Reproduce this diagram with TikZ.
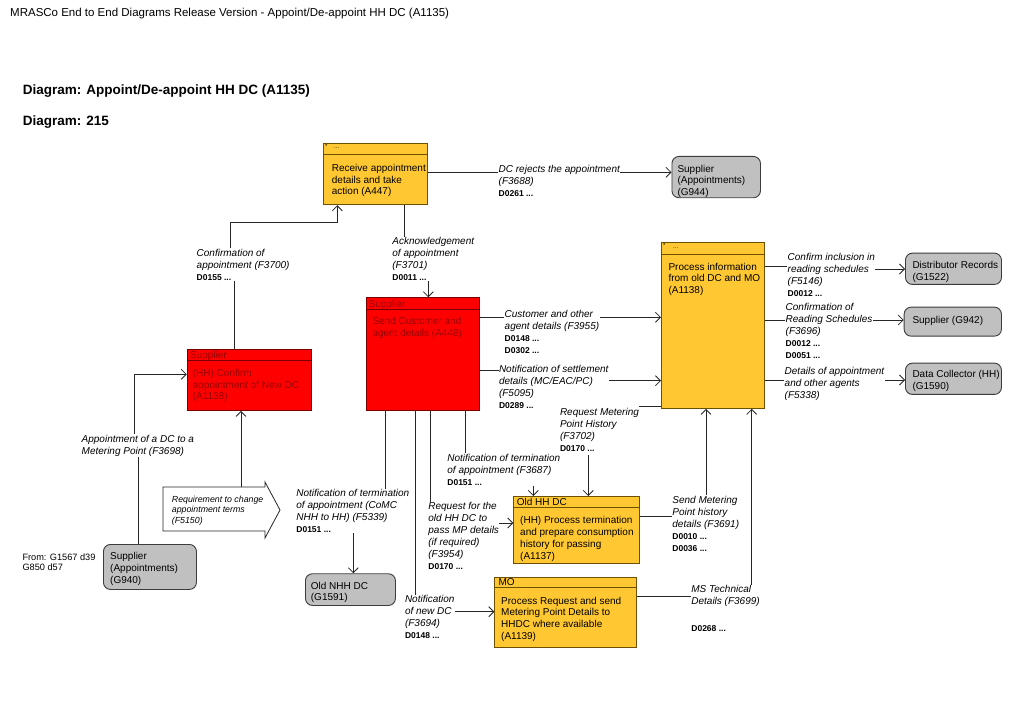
\documentclass[tikz,border=0pt]{standalone}
\usepackage{fontspec}
\setmainfont{Liberation Sans}
\usetikzlibrary{arrows.meta}
\definecolor{orF}{RGB}{255,200,50}
\definecolor{orD}{RGB}{110,80,0}
\definecolor{rdF}{RGB}{255,0,0}
\definecolor{rdD}{RGB}{120,0,0}
\definecolor{rdT}{RGB}{150,0,0}
\definecolor{grF}{RGB}{192,192,192}
\definecolor{grD}{RGB}{60,60,60}
\newcommand{\bxf}{\fontsize{10}{11.7}\selectfont}
\newcommand{\lbf}{\fontsize{10}{12}\selectfont\itshape}
\newcommand{\dcode}[1]{{\fontsize{8.5}{12}\selectfont\normalfont\fontsize{8.5}{12}\selectfont\bfseries #1}}
\begin{document}
\begin{tikzpicture}[x=1pt,y=-1pt,
  box/.style={anchor=north west, inner sep=0pt, line width=0.9pt},
  obox/.style={box, draw=orD, fill=orF},
  rbox/.style={box, draw=rdD, fill=rdF},
  gbox/.style={box, draw=grD, fill=grF, rounded corners=7pt},
  btext/.style={anchor=north west, inner sep=0pt, align=left, font=\bxf},
  rtext/.style={btext, text=rdT},
  tiny/.style={anchor=north west, inner sep=0pt, font=\fontsize{6}{6}\selectfont},
  lab/.style={anchor=north west, inner sep=0.5pt, align=left, fill=white, font=\lbf},
  conn/.style={draw=black!85, line width=0.8pt},
  arr/.style={conn, -{Straight Barb[length=5pt,width=10pt]}},
  hline/.style={line width=0.9pt}]
\useasboundingbox[fill=white] (0,0) rectangle (1023,708);

% titles
\node[anchor=north west, inner sep=0pt, font=\fontsize{11.5}{13}\selectfont] (T1) at (10,8.1)
  {MRASCo End to End Diagrams Release Version - Appoint/De-appoint HH DC (A1135)};
\node[anchor=north west, inner sep=0pt, font=\fontsize{13.5}{15}\selectfont\bfseries] (T2) at (22.7,84.4)
  {Diagram: Appoint/De-appoint HH DC (A1135)};
\node[anchor=north west, inner sep=0pt, font=\fontsize{13.5}{15}\selectfont\bfseries] (T3) at (22.7,115.8)
  {Diagram: 215};

% ---------- boxes ----------
\node[obox, minimum width=104pt, minimum height=61pt] (A447) at (323.3,143.3) {};
\draw[hline, draw=orD] (323.3,154) -- (427.3,154);
\node[tiny] (A447a) at (325,144.5) {*};
\node[tiny] (A447b) at (334,147.5) {...};
\node[btext] (A447t) at (331.7,164.1) {Receive appointment\\details and take\\action (A447)};

\node[gbox, minimum width=88.5pt, minimum height=41.3pt] (G944) at (671.5,156) {};
\node[btext] (G944t) at (677.3,164.8) {Supplier\\(Appointments)\\(G944)};

\node[obox, minimum width=103pt, minimum height=166pt] (A1138p) at (661,242) {};
\draw[hline, draw=orD] (661,254) -- (764,254);
\node[tiny] (A1138pa) at (663,243.5) {*};
\node[tiny] (A1138pb) at (673,247.5) {...};
\node[btext] (A1138pt) at (668.3,262.8) {Process information\\from old DC and MO\\(A1138)};

\node[rbox, minimum width=112.7pt, minimum height=112.7pt] (A448) at (366,297.3) {};
\draw[hline, draw=rdD] (366,309.3) -- (478.7,309.3);
\node[rtext] (A448h) at (368.5,299.8) {Supplier};
\node[rtext] (A448t) at (372.3,317.5) {Send Customer and\\agent details (A448)};

\node[rbox, minimum width=124pt, minimum height=61pt] (A1138c) at (186.7,349) {};
\draw[hline, draw=rdD] (186.7,360) -- (310.7,360);
\node[rtext] (A1138ch) at (190,350.8) {Supplier};
\node[rtext] (A1138ct) at (192.7,369.1) {(HH) Confirm\\appointment of New DC\\(A1138)};

\node[gbox, minimum width=96pt, minimum height=31.3pt] (G1522) at (905,252.7) {};
\node[btext] (G1522t) at (912.3,261.5) {Distributor Records\\(G1522)};

\node[gbox, minimum width=97.3pt, minimum height=29pt] (G942) at (903.7,306.7) {};
\node[btext] (G942t) at (912.3,315.8) {Supplier (G942)};

\node[gbox, minimum width=96pt, minimum height=31.3pt] (G1590) at (905,362.7) {};
\node[btext] (G1590t) at (912.3,370.1) {Data Collector (HH)\\(G1590)};

\node[obox, minimum width=125.7pt, minimum height=67.3pt] (A1137) at (513.3,496) {};
\draw[hline, draw=orD] (513.3,507.7) -- (639,507.7);
\node[btext] (A1137h) at (516.7,498) {Old HH DC};
\node[btext] (A1137t) at (520,516.5) {(HH) Process termination\\and prepare consumption\\history for passing\\(A1137)};

\node[obox, minimum width=141.4pt, minimum height=70pt] (MO) at (494.3,576.7) {};
\draw[hline, draw=orD] (494.3,587.3) -- (635.7,587.3);
\node[btext] (MOh) at (498.3,578.5) {MO};
\node[btext] (MOt) at (501,596.8) {Process Request and send\\Metering Point Details to\\HHDC where available\\(A1139)};

\node[gbox, minimum width=90pt, minimum height=31.7pt] (G1591) at (305,573.3) {};
\node[btext] (G1591t) at (310.7,581.8) {Old NHH DC\\(G1591)};

\node[gbox, minimum width=93pt, minimum height=45pt] (G940) at (103,544) {};
\node[btext] (G940t) at (110,552.5) {Supplier\\(Appointments)\\(G940)};

\node[anchor=north west, inner sep=0pt, align=left, font=\fontsize{9.2}{10.7}\selectfont] (From) at (22.3,553.3)
  {From: G1567 d39\\G850 d57};

% block arrow
\draw[line width=0.8pt, draw=black!85, fill=white] (163,487) -- (265,487) -- (265,482) -- (280,510)
  -- (265,538) -- (265,531) -- (163,531) -- cycle;
\coordinate (ReqTop) at (241,487);
\node[anchor=north west, inner sep=0pt, align=left, font=\fontsize{8.8}{10.5}\selectfont\itshape] (ReqT)
  at (171.7,495.7) {Requirement to change\\appointment terms\\(F5150)};

% ---------- connectors ----------
\draw[arr] (A447.east |- 0,172.3) -- (G944.west |- 0,172.3);
\draw[arr] (A1138c.north -| 234.3,0) -- (234.3,260) -- (230.7,260) -- (230.7,222.3) -- (337.3,222.3) -- (A447.south -| 337.3,0);
\draw[arr] (A447.south -| 404,0) -- (404,255) -- (428.3,255) -- (A448.north -| 428.3,0);
\draw[arr] (G940.north -| 138.7,0) -- (138.7,440) -- (134.3,440) -- (134.3,374.3) -- (A1138c.west |- 0,374.3);
\draw[arr] (ReqTop) -- (A1138c.south -| ReqTop);
\draw[arr] (A448.east |- 0,317.3) -- (A1138p.west |- 0,317.3);
\draw[arr] (A448.east |- 0,370.7) -- (550,370.7) -- (550,380.7) -- (A1138p.west |- 0,380.7);
\draw[arr] (A1138p.west |- 0,406.7) -- (588.3,406.7) -- (A1137.north -| 588.3,0);
\draw[arr] (A448.south -| 465.7,0) -- (465.7,465) -- (533.3,465) -- (A1137.north -| 533.3,0);
\draw[arr] (A448.south -| 385.7,0) -- (385.7,505) -- (353.3,505) -- (G1591.north -| 353.3,0);
\draw[arr] (A448.south -| 415,0) -- (415,611.7) -- (MO.west |- 0,611.7);
\draw[arr] (A448.south -| 430.7,0) -- (430.7,523) -- (A1137.west |- 0,523);
\draw[arr] (A1137.east |- 0,516) -- (706,516) -- (A1138p.south -| 706,0);
\draw[arr] (MO.east |- 0,596) -- (751.7,596) -- (A1138p.south -| 751.7,0);
\draw[arr] (A1138p.east |- 0,266) -- (830,266) -- (830,269) -- (G1522.west |- 0,269);
\draw[arr] (A1138p.east |- 0,320) -- (G942.west |- 0,320);
\draw[arr] (A1138p.east |- 0,380) -- (G1590.west |- 0,380);

% ---------- labels ----------
\node[lab] (L1) at (498,164.8) {DC rejects the appointment\\(F3688)\\\dcode{D0261 ...}};
\node[lab] (L2) at (196,248.1) {Confirmation of\\appointment (F3700)\\\dcode{D0155 ...}};
\node[lab] (L3) at (391.7,236.8) {Acknowledgement\\of appointment\\(F3701)\\\dcode{D0011 ...}};
\node[lab] (L4) at (504,309.1) {Customer and other\\agent details (F3955)\\\dcode{D0148 ...}\\\dcode{D0302 ...}};
\node[lab] (L5) at (498.3,364.1) {Notification of settlement\\details (MC/EAC/PC)\\(F5095)\\\dcode{D0289 ...}};
\node[lab, inner ysep=3pt] (L6) at (559.3,405.5) {Request Metering\\Point History\\(F3702)\\\dcode{D0170 ...}};
\node[lab] (L7) at (446.7,453.1) {Notification of termination\\of appointment (F3687)\\\dcode{D0151 ...}};
\node[lab] (L8) at (295.7,488.5) {Notification of termination\\of appointment (CoMC\\NHH to HH) (F5339)\\\dcode{D0151 ...}};
\node[lab] (L9) at (427.7,501.8) {Request for the\\old HH DC to\\pass MP details\\(if required)\\(F3954)\\\dcode{D0170 ...}};
\node[lab] (L10) at (404.3,594.8) {Notification\\of new DC\\(F3694)\\\dcode{D0148 ...}};
\node[lab] (L11) at (671.7,495.1) {Send Metering\\Point history\\details (F3691)\\\dcode{D0010 ...}\\\dcode{D0036 ...}};
\node[lab] (L12) at (690.7,584.8) {MS Technical\\Details (F3699)\\[15pt]\dcode{D0268 ...}};
\node[lab] (L13) at (787,252.5) {Confirm inclusion in\\reading schedules\\(F5146)\\\dcode{D0012 ...}};
\node[lab] (L14) at (785,302.5) {Confirmation of\\Reading Schedules\\(F3696)\\\dcode{D0012 ...}\\\dcode{D0051 ...}};
\node[lab] (L15) at (784,366.8) {Details of appointment\\and other agents\\(F5338)};
\node[lab] (L16) at (81,434.1) {Appointment of a DC to a\\Metering Point (F3698)};
\end{tikzpicture}
\end{document}
